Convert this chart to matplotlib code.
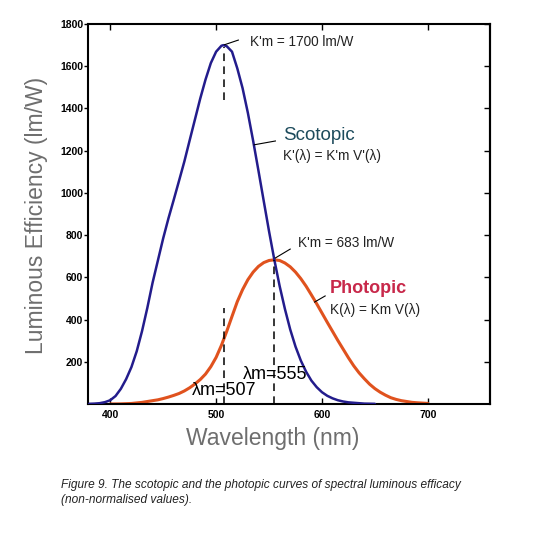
import matplotlib
matplotlib.use("Agg")
import matplotlib.pyplot as plt

# scotopic curve K'(lambda), lm/W
scot_nm = [380, 385, 390, 395, 400, 405, 410, 415, 420, 425, 430, 435, 440, 445, 450,
           455, 460, 465, 470, 475, 480, 485, 490, 495, 500, 505, 507, 510, 515, 520,
           525, 530, 535, 540, 545, 550, 555, 560, 565, 570, 575, 580, 585, 590, 595,
           600, 605, 610, 615, 620, 625, 630, 640, 650]
scot_val = [1, 2, 4, 9, 18, 38, 72, 118, 175, 250, 345, 455, 575, 680, 785,
            880, 968, 1058, 1149, 1249, 1348, 1447, 1537, 1615, 1669, 1697, 1700, 1695, 1669, 1590,
            1496, 1379, 1246, 1105, 961, 818, 683, 559, 450, 353, 272, 206, 153, 111, 80,
            56, 39, 27, 18, 12, 8, 6, 2, 1]

# photopic curve K(lambda), lm/W
phot_nm = [400, 410, 420, 430, 440, 445, 450, 455, 460, 465, 470, 475, 480, 485, 490,
           495, 500, 505, 510, 515, 520, 525, 530, 535, 540, 545, 550, 555, 560, 565,
           570, 575, 580, 585, 590, 595, 600, 605, 610, 615, 620, 625, 630, 635, 640,
           645, 650, 655, 660, 665, 670, 675, 680, 685, 690, 700]
phot_val = [0.3, 0.8, 2.7, 7.9, 16, 20, 26, 33, 41, 50, 62, 77, 95, 116, 142,
            177, 221, 278, 344, 415, 485, 542, 589, 625, 652, 670, 680, 683, 680, 668,
            650, 625, 594, 558, 517, 475, 431, 387, 344, 301, 260, 219, 181, 148, 120,
            94, 73, 56, 42, 30, 22, 16, 12, 8, 6, 3]

x_ticks = [400, 500, 600, 700]
y_ticks = [200, 400, 600, 800, 1000, 1200, 1400, 1600, 1800]
y_tick_labels = ["200", "400", "600", "800", "1000", "1200", "1400", "1600", "1800"]

BLUE = "#231c8c"
ORANGE = "#e0521e"
GREY = "#6e6e6e"
SANS = ["Liberation Sans", "DejaVu Sans"]

plt.rcParams["font.family"] = SANS

fig = plt.figure(figsize=(5.4, 5.46), dpi=100)
ax = fig.add_axes([0.163, 0.260, 0.744, 0.696])

ax.plot(scot_nm, scot_val, color=BLUE, lw=1.8, solid_capstyle="round",
        solid_joinstyle="round", zorder=3)
ax.plot(phot_nm, phot_val, color=ORANGE, lw=2.2, solid_capstyle="round",
        solid_joinstyle="round", zorder=2)

dash = dict(color="black", lw=1.1, ls=(0, (5, 3.5)), zorder=4)
ax.plot([507, 507], [1440, 1690], **dash)
ax.plot([507, 507], [0, 455], **dash)
ax.plot([555, 555], [0, 683], **dash)

# leader lines
thin = dict(color="black", lw=0.8, zorder=4)
ax.plot([508, 521], [1702, 1724], **thin)
ax.plot([536, 556], [1228, 1246], **thin)
ax.plot([556, 570], [692, 734], **thin)
ax.plot([593, 603], [483, 512], **thin)

small = dict(fontsize=9.8, color="#222222", va="center", ha="left")
ax.text(532, 1715, "K'm = 1700 lm/W", **small)
ax.text(563, 1274, "Scotopic", fontsize=13.5, color="#1d4b5c", va="center", ha="left")
ax.text(563, 1175, "K'(λ) = K'm V'(λ)", **small)
ax.text(577, 763, "K'm = 683 lm/W", **small)
ax.text(607.5, 549, "Photopic", fontsize=13, color="#c8284a", fontweight="bold",
        va="center", ha="left")
ax.text(607.5, 445, "K(λ) = Km V(λ)", **small)
ax.text(525.5, 142, "λm=555", fontsize=13, color="black", va="center", ha="left")
ax.text(477, 66, "λm=507", fontsize=13, color="black", va="center", ha="left")

ax.set_xlim(379, 758.5)
ax.set_ylim(0, 1800)
ax.set_xticks(x_ticks)
ax.set_xticklabels([str(t) for t in x_ticks])
ax.set_yticks(y_ticks)
ax.set_yticklabels(y_tick_labels)

ax.tick_params(axis="x", direction="in", top=True, bottom=True, length=4, width=1,
               labelsize=7.5, pad=4)
ax.tick_params(axis="y", which="both", left=True, right=False, direction="out",
               length=3, width=1, labelsize=7.5, pad=0.5)
for lab in ax.get_xticklabels() + ax.get_yticklabels():
    lab.set_fontweight("bold")

# inward ticks on the right spine
ax_r = ax.secondary_yaxis("right")
ax_r.set_yticks(y_ticks)
ax_r.tick_params(direction="in", length=4, width=1, labelright=False)

for s in ax.spines.values():
    s.set_linewidth(1.5)
ax_r.spines["right"].set_linewidth(1.5)

fig.text(273 / 540, 1 - 439 / 546, "Wavelength (nm)", fontsize=16.5, color=GREY,
         ha="center", va="center")
fig.text(37 / 540, 1 - 215 / 546, "Luminous Efficiency (lm/W)", fontsize=16.5,
         color=GREY, ha="center", va="center", rotation=90)

fig.text(61 / 540, 1 - 485 / 546,
         "Figure 9. The scotopic and the photopic curves of spectral luminous efficacy",
         fontsize=8.6, style="italic", color="#222222", ha="left", va="center")
fig.text(61 / 540, 1 - 500.5 / 546, "(non-normalised values).",
         fontsize=8.6, style="italic", color="#222222", ha="left", va="center")

fig.savefig("out.png", dpi=100)
